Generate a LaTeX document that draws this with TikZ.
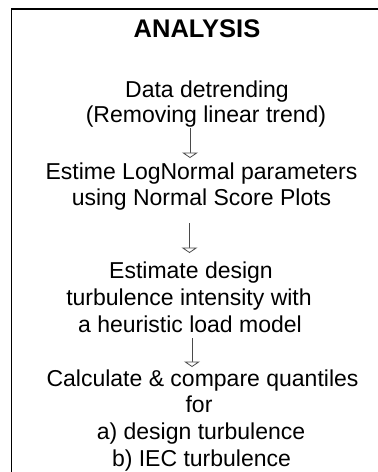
\documentclass[tikz,border=0pt]{standalone}
\usepackage{fontspec}
\setmainfont{Liberation Sans}
\usetikzlibrary{arrows.meta}
\definecolor{arrgray}{HTML}{4A4A4A}
\tikzset{
  line/.style={font=\fontsize{23}{26}\selectfont, inner sep=0pt, anchor=base},
  titletext/.style={font=\fontsize{25.5}{28}\selectfont\bfseries, inner sep=0pt, anchor=base},
  flowarrow/.style={draw=arrgray, line width=0.8pt,
    -{Triangle[open, width=16pt, length=5.5pt, fill=white]}},
  frame/.style={line width=1.6pt, draw=black}
}
\begin{document}
\begin{tikzpicture}[x=1pt,y=-1pt]
\useasboundingbox (0,0) rectangle (378,472);
% frame (clipped box: only top and left edges visible)
\coordinate (ftr) at (379,8.7);
\coordinate (ftl) at (11.3,8.7);
\coordinate (fbl) at (11.3,473);
\draw[frame] (ftr) -- (ftl) -- (fbl);
% title
\node[titletext] (title) at (197,37) {ANALYSIS};
% block 1
\node[line] (b1a) at (207,97.5) {Data detrending};
\node[line] (b1b) at (206,122) {(Removing linear trend)};
% block 2
\node[line] (b2a) at (201.5,179.5) {Estime LogNormal parameters};
\node[line] (b2b) at (201.5,205.5) {using Normal Score Plots};
% block 3
\node[line] (b3a) at (191,278) {Estimate design};
\node[line] (b3b) at (189,305.5) {turbulence intensity with};
\node[line] (b3c) at (190,332.5) {a heuristic load model};
% block 4
\node[line] (b4a) at (202.5,386) {Calculate \& compare quantiles};
\node[line] (b4b) at (199,412.5) {for};
\node[line] (b4c) at (201,439.5) {a) design turbulence};
\node[line] (b4d) at (201.5,466) {b) IEC turbulence};
% arrows
\coordinate (a1s) at (190,128);
\coordinate (a1e) at (190,158);
\coordinate (a2s) at (189.5,223);
\coordinate (a2e) at (189.5,253);
\coordinate (a3s) at (192,338);
\coordinate (a3e) at (192,367);
\draw[flowarrow] (a1s) -- (a1e);
\draw[flowarrow] (a2s) -- (a2e);
\draw[flowarrow] (a3s) -- (a3e);
\end{tikzpicture}
\end{document}
